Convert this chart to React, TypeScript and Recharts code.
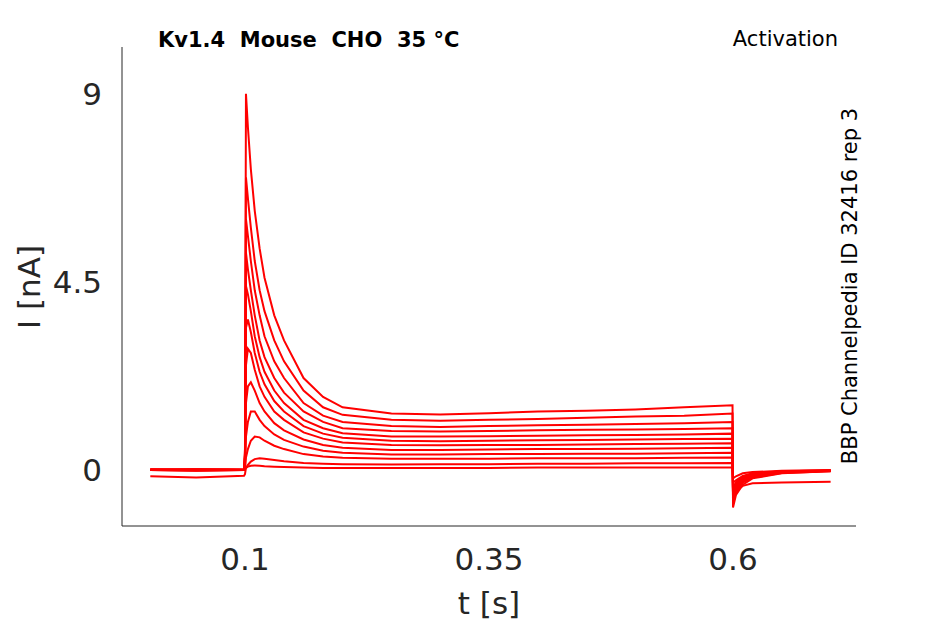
import React from "react";
import { LineChart, Line, XAxis, YAxis } from "recharts";

const T = [0.003,0.05,0.099,0.1,0.101,0.103,0.106,0.11,0.115,0.12,0.13,0.14,0.16,0.18,0.2,0.25,0.3,0.35,0.4,0.45,0.5,0.55,0.5995,0.6,0.603,0.61,0.62,0.65,0.7];

const S1 = [0,0.02,0,0.5,9.0,8.2,7.2,6.2,5.3,4.6,3.7,3.1,2.2,1.75,1.5,1.35,1.33,1.36,1.4,1.42,1.45,1.5,1.55,-0.9,-0.6,-0.35,-0.2,-0.08,-0.03];
const S2 = [0.01,0,0.02,0.4,7.0,6.5,5.8,5.0,4.3,3.8,3.1,2.6,1.9,1.5,1.32,1.2,1.18,1.2,1.22,1.25,1.28,1.3,1.35,-0.8,-0.55,-0.3,-0.18,-0.07,-0.03];
const S3 = [0,-0.02,0,0.35,6.0,5.6,5.0,4.3,3.7,3.2,2.6,2.2,1.6,1.3,1.15,1.05,1.03,1.05,1.07,1.08,1.1,1.12,1.15,-0.7,-0.5,-0.28,-0.15,-0.06,-0.02];
const S4 = [0.02,0,0.01,0.3,5.2,4.8,4.3,3.7,3.1,2.7,2.2,1.85,1.4,1.15,1.0,0.93,0.92,0.93,0.95,0.96,0.97,0.98,1.0,-0.65,-0.45,-0.25,-0.14,-0.05,-0.02];
const S5 = [0,0.01,0,0.25,4.4,4.2,3.8,3.2,2.7,2.35,1.9,1.6,1.2,1.0,0.88,0.8,0.8,0.81,0.82,0.83,0.84,0.85,0.87,-0.6,-0.42,-0.24,-0.13,-0.05,-0.02];
const S6 = [0.01,0,0,0.2,3.4,3.6,3.3,2.8,2.35,2.05,1.65,1.4,1.05,0.87,0.77,0.7,0.69,0.7,0.71,0.72,0.73,0.74,0.75,-0.55,-0.4,-0.22,-0.12,-0.04,-0.02];
const S7 = [0,0.02,0.01,0.15,2.5,2.9,2.8,2.4,2.0,1.75,1.4,1.2,0.9,0.75,0.66,0.6,0.59,0.6,0.6,0.61,0.62,0.63,0.64,-0.5,-0.38,-0.2,-0.11,-0.04,-0.02];
const S8 = [0,0,0,0.1,1.6,2.0,2.1,1.9,1.6,1.4,1.12,0.95,0.73,0.6,0.53,0.48,0.48,0.49,0.5,0.5,0.51,0.52,0.53,-0.45,-0.34,-0.18,-0.1,-0.04,-0.02];
const S9 = [0.01,0,0,0.05,0.8,1.15,1.4,1.4,1.2,1.05,0.85,0.72,0.56,0.46,0.41,0.37,0.37,0.38,0.38,0.39,0.39,0.4,0.41,-0.4,-0.3,-0.16,-0.09,-0.03,-0.01];
const S10 = [0,0.01,0,0.03,0.3,0.5,0.7,0.8,0.78,0.7,0.58,0.5,0.38,0.32,0.29,0.27,0.27,0.27,0.28,0.28,0.28,0.29,0.3,-0.3,-0.25,-0.14,-0.08,-0.03,-0.01];
const S11 = [-0.15,-0.18,-0.14,-0.1,0.05,0.12,0.2,0.26,0.28,0.27,0.24,0.21,0.17,0.15,0.14,0.13,0.14,0.14,0.15,0.15,0.16,0.16,0.17,-0.6,-0.5,-0.38,-0.32,-0.3,-0.28];
const S12 = [0,-0.02,0,0.02,0.05,0.08,0.1,0.11,0.1,0.09,0.08,0.07,0.06,0.05,0.05,0.05,0.05,0.05,0.06,0.06,0.06,0.06,0.06,-0.2,-0.15,-0.08,-0.05,-0.02,0];

const SERIES = [S1,S2,S3,S4,S5,S6,S7,S8,S9,S10,S11,S12];
const X_TICKS = [0.1, 0.35, 0.6];
const Y_TICKS = [0, 4.5, 9];

const data = T.map((t, i) => {
  const row: Record<string, number> = { t };
  SERIES.forEach((s, k) => { row["s" + k] = s[i]; });
  return row;
});

const font = "'DejaVu Sans', sans-serif";
const tickStyle = { fill: "#262626", fontSize: 31, fontFamily: font };

export default function App() {
  return (
    <div style={{ position: "absolute", left: 0, top: 0, width: 945, height: 624, background: "#fff" }}>
      <LineChart width={945} height={624} data={data} margin={{ top: 47, right: 89, left: 0, bottom: 0 }}>
        <XAxis dataKey="t" type="number" domain={[-0.026, 0.726]} ticks={X_TICKS} tickLine={false}
          axisLine={{ stroke: "#262626" }} tick={tickStyle} tickMargin={16} height={98} />
        <YAxis type="number" domain={[-1.34, 10.12]} ticks={Y_TICKS} tickLine={false}
          axisLine={{ stroke: "#262626" }} tick={tickStyle} tickMargin={14} width={122} />
        {SERIES.map((_, k) => (
          <Line key={k} dataKey={"s" + k} type="linear" stroke="#ff0000" strokeWidth={2} dot={false} isAnimationActive={false} />
        ))}
        <text x={489} y={614} fontFamily={font} fontSize={31} textAnchor="middle" fill="#262626">t [s]</text>
        <text x={40} y={287} fontFamily={font} fontSize={31} textAnchor="middle" fill="#262626" transform="rotate(-90 40 287)">I [nA]</text>
        <text x={158} y={47} fontFamily={font} fontSize={21} fontWeight="bold" fill="#000" style={{ whiteSpace: "pre" }}>{"Kv1.4  Mouse  CHO  35 °C"}</text>
        <text x={838} y={46} fontFamily={font} fontSize={21} textAnchor="end" fill="#000">Activation</text>
        <text x={857} y={286} fontFamily={font} fontSize={21} textAnchor="middle" fill="#000" transform="rotate(-90 857 286)">BBP Channelpedia ID 32416 rep 3</text>
      </LineChart>
    </div>
  );
}
